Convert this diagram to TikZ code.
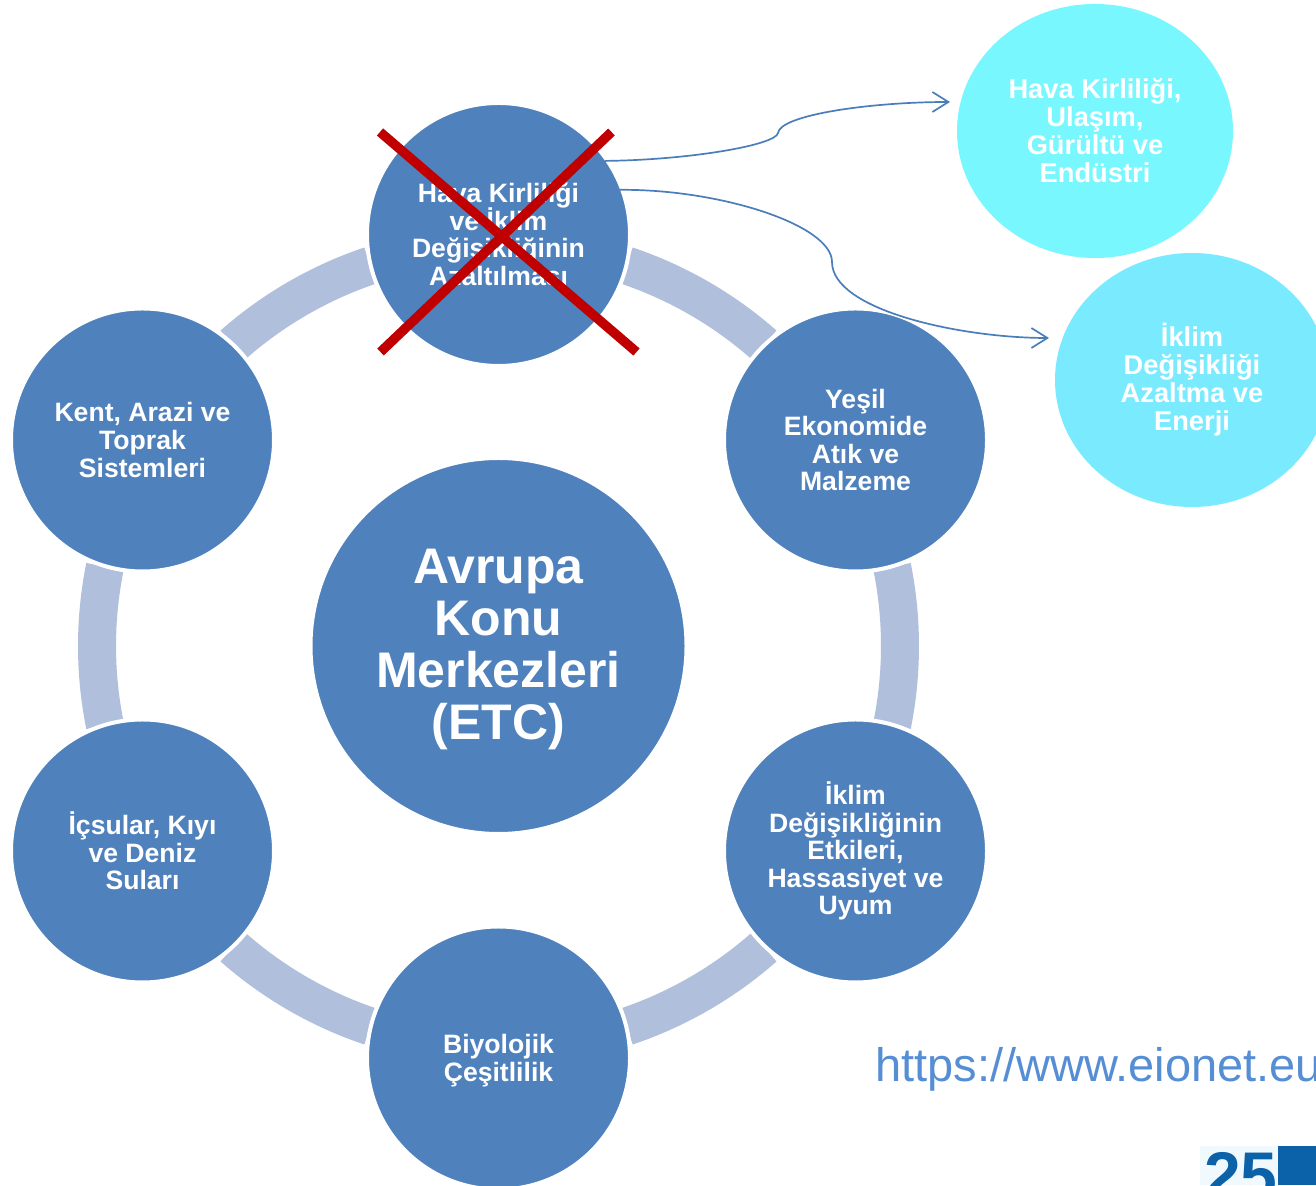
\documentclass[tikz,border=0pt]{standalone}
\usepackage{fontspec}
\setmainfont{Liberation Sans}
\usetikzlibrary{arrows.meta,shapes.geometric}
\definecolor{hubblue}{HTML}{4F81BD}
\definecolor{ringblue}{HTML}{B0BFDB}
\definecolor{cyanA}{HTML}{78F7FF}
\definecolor{cyanB}{HTML}{7AEBFF}
\definecolor{linkblue}{HTML}{558ED5}
\definecolor{crossred}{HTML}{C00000}
\definecolor{logoblue}{HTML}{0B62A8}
\definecolor{wireblue}{HTML}{4A7EBB}
\lineskiplimit=-20pt
\tikzset{
  hub/.style={circle,fill=hubblue,draw=white,line width=4pt,minimum size=263pt,inner sep=0pt,text=white,align=center,font=\bfseries\fontsize{26.6}{27.6}\selectfont},
  core/.style={hub,minimum size=376pt,font=\bfseries\fontsize{50}{52}\selectfont},
  blob/.style={ellipse,text=white,align=center,inner sep=0pt,font=\bfseries\fontsize{27.3}{28}\selectfont},
  wire/.style={draw=wireblue,line width=1.7pt,-{Straight Barb[length=16pt,width=20pt,line width=1.7pt]}},
  crossbar/.style={draw=crossred,line width=9.5pt},
  ringseg/.style={draw=ringblue,line width=38pt}
}
\begin{document}
\begin{tikzpicture}[x=1pt,y=1pt]
\useasboundingbox (0,0) rectangle (1316,1185);
\clip (0,0) rectangle (1316,1185);
\fill[white] (0,0) rectangle (1316,1185);
\coordinate (c) at (498.5,539);
% ring segments
\foreach \a in {0,60,...,300}{
  \draw[ringseg] ([shift={(\a-11.4:401.5)}]c) arc[start angle=\a-11.4,end angle=\a+11.4,radius=401.5pt];
}
% hubs
\node[core] (etc) at (c) {\rule{0pt}{41pt}Avrupa\\Konu\\Merkezleri\\(ETC)};
\node[hub] (air) at (498.5,950.5) {Hava Kirliliği\\ve İklim\\Değişikliğinin\\Azaltılması};
\node[hub] (waste) at (855.5,745) {Yeşil\\Ekonomide\\Atık ve\\Malzeme};
\node[hub] (adapt) at (855.5,334) {İklim\\Değişikliğinin\\Etkileri,\\Hassasiyet ve\\Uyum};
\node[hub] (bio) at (498.5,127) {\rule{0pt}{24pt}Biyolojik\\Çeşitlilik};
\node[hub] (water) at (142.5,334) {İçsular, Kıyı\\ve Deniz\\Suları};
\node[hub] (land) at (142.5,745) {Kent, Arazi ve\\Toprak\\Sistemleri};
% cyan blobs
\node[blob,fill=cyanA,minimum width=276pt,minimum height=254pt] (b1) at (1095,1054) {Hava Kirliliği,\\Ulaşım,\\Gürültü ve\\Endüstri};
\node[blob,fill=cyanB,minimum width=274pt,minimum height=254pt] (b2) at (1192,805) {İklim\\Değişikliği\\Azaltma ve\\Enerji};
% connectors
\coordinate (e1) at (950,1083);
\coordinate (e2) at (1049,847);
\draw[wire] ([xshift=-3pt,yshift=-3pt]air.35) .. controls (690,1025) and (776,1040) .. (778,1052) .. controls (780,1070) and (870,1083) .. (e1);
\draw[wire] ([xshift=-4pt,yshift=-1pt]air.20) .. controls (720,996) and (832,960) .. (832,923) .. controls (832,875) and (960,847) .. (e2);
% cross
\coordinate (x1) at (380,1053);
\coordinate (x2) at (636.5,833);
\coordinate (x3) at (611.5,1053);
\coordinate (x4) at (380.5,833);
\draw[crossbar] (x1) -- (x2);
\draw[crossbar] (x3) -- (x4);
% url
\node[anchor=base west,inner sep=0pt,text=linkblue,font=\fontsize{47}{50}\selectfont] (url) at (875,103) {https://www.eionet.eu};
% logo fragment
\fill[logoblue] (1278,0) rectangle (1316,39);
\fill[white!94!cyan] (1200,0) rectangle (1278,39);
\node[anchor=base west,inner sep=0pt,text=logoblue,font=\bfseries\fontsize{66}{70}\selectfont] (logo) at (1204,-13) {25};
\end{tikzpicture}
\end{document}
